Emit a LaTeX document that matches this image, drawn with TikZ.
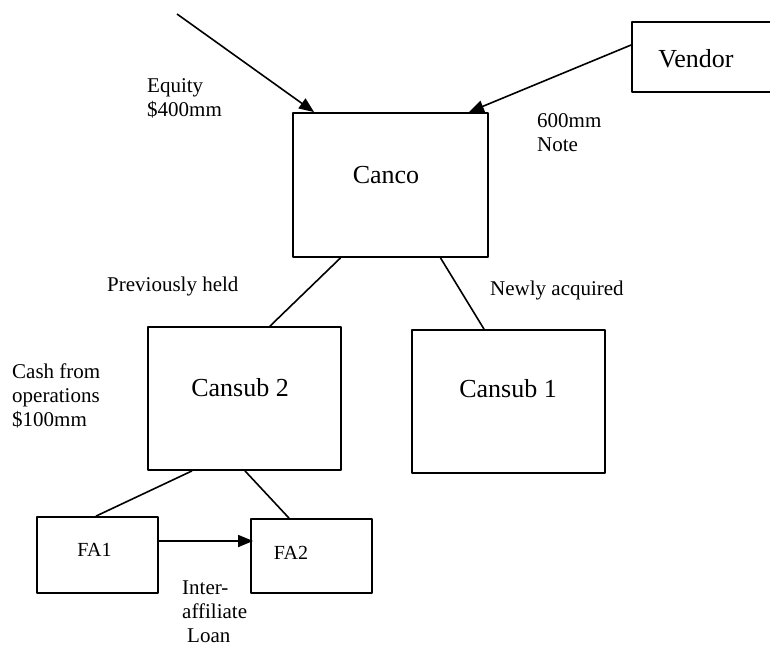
\documentclass[tikz,border=0pt]{standalone}
\usepackage{fontspec}
\setmainfont{Liberation Serif}
\usetikzlibrary{arrows.meta,calc}

\begin{document}
\begin{tikzpicture}[x=1pt,y=-1pt,>={Triangle[length=15pt,width=12pt]},line join=round,
    box/.style={draw,line width=1.8pt,inner sep=0pt},
    boxname/.style={font=\fontsize{26}{30}\selectfont,anchor=base,inner sep=0pt},
    faname/.style={font=\fontsize{20}{24}\selectfont,anchor=base,inner sep=0pt},
    remark/.style={font=\fontsize{21}{24}\selectfont,align=left,anchor=north west,inner sep=0pt},
    link/.style={line width=1.6pt}]
    \useasboundingbox (0,0) rectangle (770,647);

    % companies
    \node[box,minimum width=168,minimum height=70] (vendor) at (716,57) {};
    \node[box,minimum width=195,minimum height=144] (canco) at (390.5,185) {};
    \node[box,minimum width=193,minimum height=143] (cansub2) at (244.5,398.5) {};
    \node[box,minimum width=193,minimum height=143] (cansub1) at (508.5,401.5) {};
    \node[box,minimum width=121,minimum height=76] (fa1) at (97.5,555) {};
    \node[box,minimum width=121,minimum height=74] (fa2) at (311.5,556) {};

    \node[boxname] (vendor-t) at (696,68) {Vendor};
    \node[boxname] (canco-t) at (386,183) {Canco};
    \node[boxname] (cansub2-t) at (240,396) {Cansub 2};
    \node[boxname] (cansub1-t) at (508,397) {Cansub 1};
    \node[faname] (fa1-t) at (94.5,556) {FA1};
    \node[faname] (fa2-t) at (291,559) {FA2};

    % flows and holdings
    \coordinate (equity-src) at (177,14);
    \draw[link,->] (equity-src) -- ($(canco.north west)+(22,0)$);
    \draw[link,->] ($(vendor.west)+(0,-12)$) -- ($(canco.north east)+(-20,0)$);
    \draw[link] ($(canco.south)+(-50,0)$) -- ($(cansub2.north)+(25.5,0)$);
    \draw[link] ($(canco.south)+(50,0)$) -- ($(cansub1.north)+(-24.5,0)$);
    \draw[link] ($(cansub2.south)+(-52.5,0)$) -- ($(fa1.north)+(-1.5,0)$);
    \draw[link] ($(cansub2.south)+(0.5,0)$) -- ($(fa2.north)+(-22.5,0)$);
    \draw[link,->] ($(fa1.east)+(0,-14)$) -- ($(fa2.west)+(3,-15)$);

    % notes
    \node[remark] (equity) at (147,78) {Equity\\\$400mm};
    \node[remark] (note) at (537,113) {600mm\\Note};
    \node[remark] (prev) at (107,277) {Previously held};
    \node[remark] (newly) at (490,281) {Newly acquired};
    \node[remark] (cash) at (12,364) {Cash from\\operations\\\$100mm};
    \node[remark] (loan) at (182,581) {Inter-\\affiliate\\\hspace{5pt}Loan};
\end{tikzpicture}
\end{document}
